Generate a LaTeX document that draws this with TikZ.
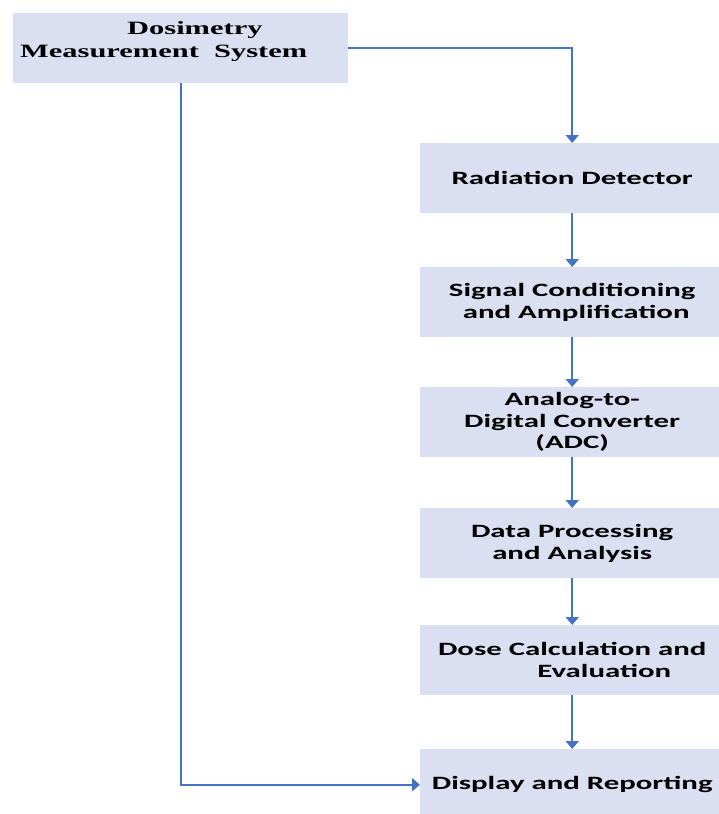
\documentclass[tikz,border=0pt]{standalone}
\usepackage{fontspec}
\newfontfamily\boxfont{Carlito}[FakeStretch=1.64]
\newfontfamily\topfont{Liberation Serif}[FakeStretch=1.62]
\usetikzlibrary{arrows.meta}
\definecolor{boxfill}{RGB}{218,224,242}
\definecolor{linecol}{RGB}{68,114,196}
\begin{document}
\begin{tikzpicture}[x=1pt,y=-1pt,
  stagebox/.style={fill=boxfill, draw=none, anchor=north west, minimum width=304pt,
    minimum height=70pt, inner sep=2pt, align=center,
    font=\boxfont\bfseries\fontsize{18.8}{21.5}\selectfont},
  conn/.style={draw=linecol, line width=2pt},
  arr/.style={conn, -{Triangle[width=13pt,length=8pt]}}]
\useasboundingbox (0,0) rectangle (718,814);
% top box
\node[fill=boxfill, draw=none, anchor=north west, minimum width=335pt, minimum height=70pt, inner sep=0pt] (dms) at (13,13) {};
\node[anchor=north west, inner sep=0pt, align=left,
  font=\topfont\bfseries\fontsize{18.8}{23}\selectfont] (dmst) at (20,21)
  {\hspace*{107pt}Dosimetry\\Measurement\ \ System};
% stage boxes
\node[stagebox] (rd) at (420,143) {Radiation Detector};
\node[stagebox] (sc) at (420,267) {Signal Conditioning\\\hspace*{8pt}and Amplification};
\node[stagebox] (adc) at (420,387) {Analog-to-\\Digital Converter\\(ADC)};
\node[stagebox] (dp) at (420,508) {Data Processing\\and Analysis};
\node[stagebox] (dc) at (420,625) {Dose Calculation and\\\hspace*{64pt}Evaluation};
\node[stagebox, minimum height=71pt] (disp) at (420,749) {Display and Reporting};
% connectors
\draw[arr] (dms.east) -| (rd.north);
\draw[arr] (rd.south) -- (sc.north);
\draw[arr] (sc.south) -- (adc.north);
\draw[arr] (adc.south) -- (dp.north);
\draw[arr] (dp.south) -- (dc.north);
\draw[arr] (dc.south) -- (disp.north);
\draw[arr] (dms.south) |- (disp.west);
\end{tikzpicture}
\end{document}
